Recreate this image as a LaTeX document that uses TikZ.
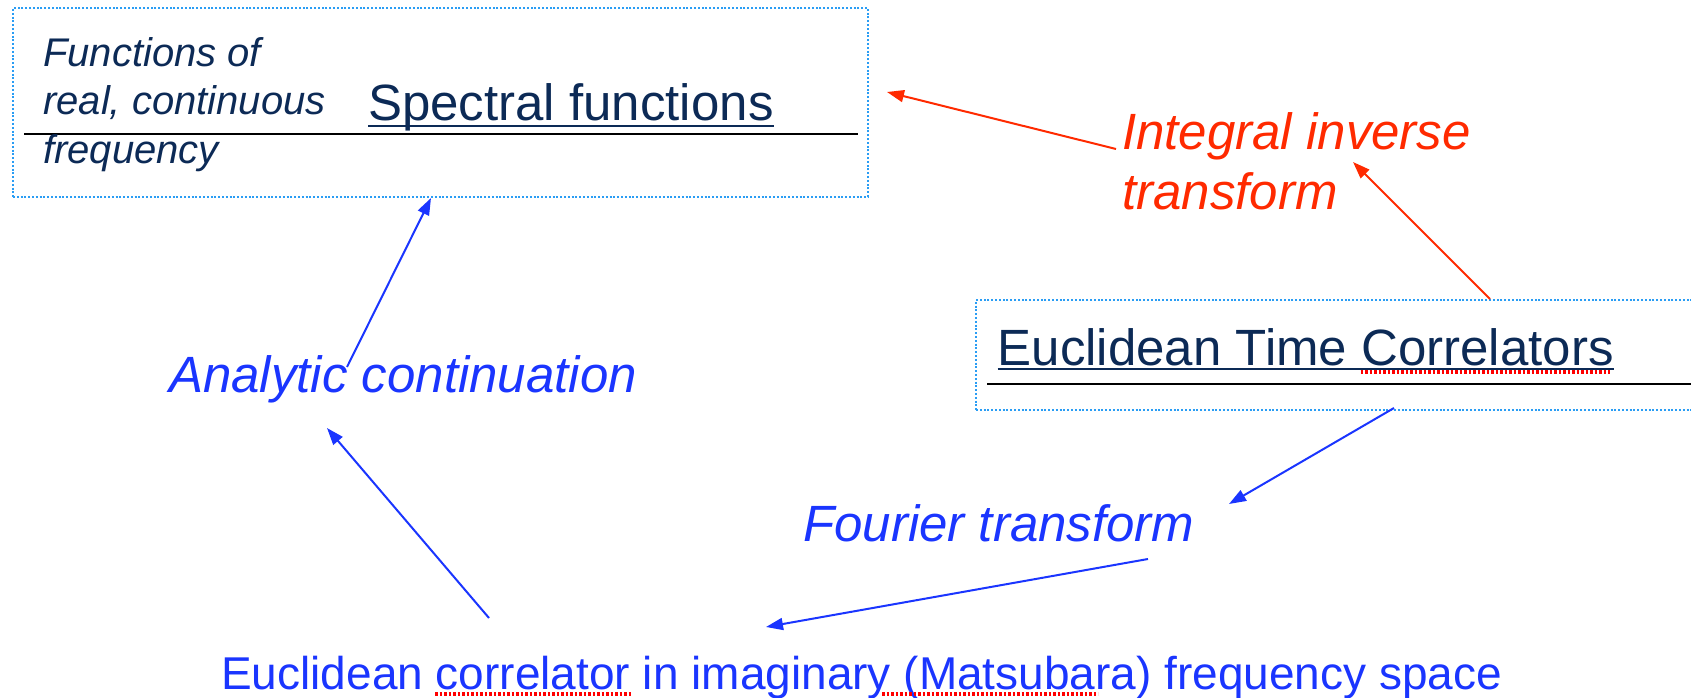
\documentclass[tikz,border=0pt]{standalone}
\usepackage{fontspec}
\setmainfont{Liberation Sans}
\usetikzlibrary{arrows.meta}
\definecolor{navytext}{HTML}{0C2A56}
\definecolor{bluetext}{HTML}{1A35FF}
\definecolor{redtext}{HTML}{FF2A00}
\definecolor{boxline}{HTML}{2A9DF4}
\begin{document}
\begin{tikzpicture}[
    x=1pt, y=1pt,
    dotted box/.style={draw=boxline, line width=2pt, dash pattern=on 2pt off 1.8pt, inner sep=0pt},
    big label/.style={inner sep=0pt, anchor=base west, font=\fontsize{51}{60}\selectfont},
    small label/.style={inner sep=0pt, anchor=base west, align=left, text=navytext, font=\fontsize{40}{48.5}\selectfont\itshape},
    under line/.style={draw=navytext, line width=2.4pt},
    rule line/.style={draw=black, line width=2.6pt},
    spell mark/.style={draw=red, line width=3.2pt, dash pattern=on 2.5pt off 2pt},
    blue arrow/.style={draw=bluetext, line width=2pt, -{Triangle[length=17pt,width=12pt]}},
    red arrow/.style={draw=redtext, line width=2pt, -{Triangle[length=17pt,width=12pt]}},
    ]
\clip (0,0) rectangle (1691,697);
\node[dotted box, minimum width=855pt, minimum height=189pt] (specbox) at (440.5,594.5) {};
\node[dotted box, minimum width=744pt, minimum height=110pt] (corrbox) at (1348,342) {};
\draw[rule line] (24,563) -- (858,563);
\draw[rule line] (987,313) -- (1700,313);
\node[small label] (funclab) at (43,533.5) {Functions of\\real, continuous\\frequency};
\node[big label, text=navytext] (spec) at (368,576) {Spectral functions};
\node[big label, text=navytext] (corr) at (997.5,332) {Euclidean Time Correlators};
\node[big label, text=redtext, align=left, font=\fontsize{51}{60}\selectfont\itshape] (inv) at (1122,487) {Integral inverse\\transform};
\node[big label, text=bluetext, font=\fontsize{51}{60}\selectfont\itshape] (ancont) at (169,305) {Analytic continuation};
\node[big label, text=bluetext, font=\fontsize{51}{60}\selectfont\itshape] (fourier) at (803,156) {Fourier transform};
\node[big label, text=bluetext, font=\fontsize{46}{55}\selectfont] (matsu) at (221,8) {Euclidean correlator in imaginary (Matsubara) frequency space};
\draw[under line] ([yshift=-5pt]spec.base west) -- ([yshift=-5pt]spec.base east);
\draw[under line] ([yshift=-4pt]corr.base west) -- ([yshift=-4pt]corr.base east);
\draw[spell mark] ([xshift=363pt,yshift=-7pt]corr.base west) -- ([xshift=612pt,yshift=-7pt]corr.base west);
\draw[spell mark] ([xshift=214pt,yshift=-5pt]matsu.base west) -- ([xshift=410pt,yshift=-5pt]matsu.base west);
\draw[spell mark] ([xshift=661pt,yshift=-5pt]matsu.base west) -- ([xshift=877pt,yshift=-5pt]matsu.base west);
\draw[red arrow] ([xshift=-6pt,yshift=61pt]inv.base west) -- ([xshift=18pt,yshift=10.5pt]specbox.east);
\draw[red arrow] ([xshift=142pt]corrbox.north) -- ([xshift=231pt,yshift=48pt]inv.base west);
\draw[blue arrow] ([xshift=178pt,yshift=25pt]ancont.base west) -- ([xshift=-9.5pt]specbox.south);
\draw[blue arrow] ([xshift=268pt,yshift=71pt]matsu.base west) -- ([xshift=158pt,yshift=-36pt]ancont.base west);
\draw[blue arrow] ([xshift=46pt,yshift=3pt]corrbox.south) -- ([xshift=426pt,yshift=37pt]fourier.base west);
\draw[blue arrow] ([xshift=345pt,yshift=-18pt]fourier.base west) -- ([xshift=545pt,yshift=62pt]matsu.base west);
\end{tikzpicture}
\end{document}
